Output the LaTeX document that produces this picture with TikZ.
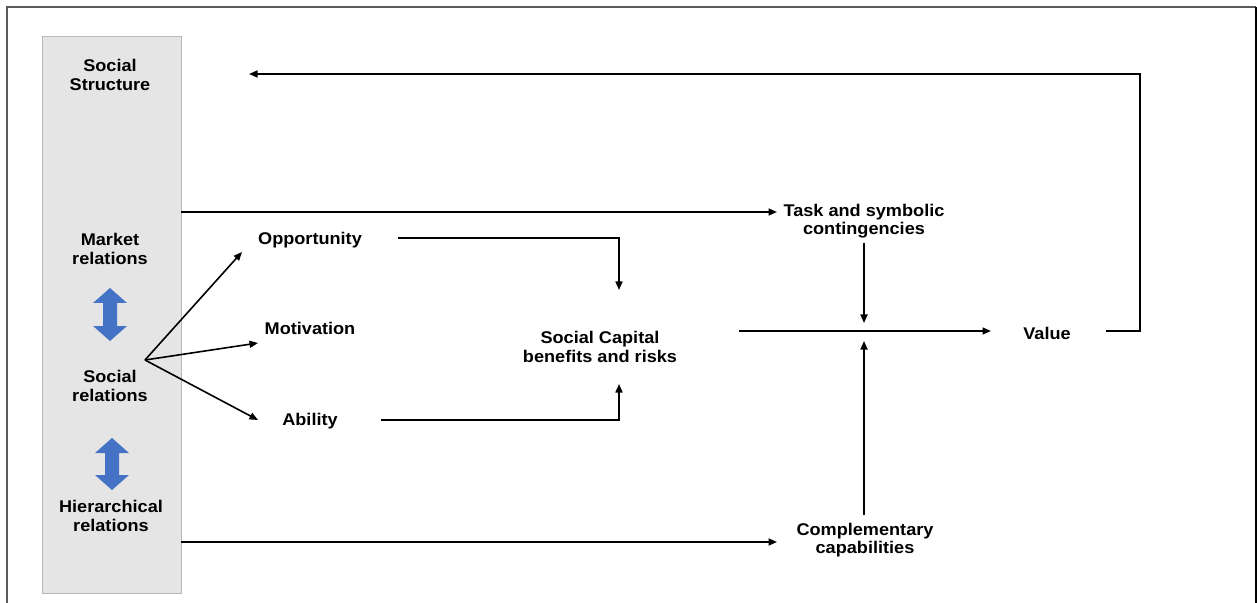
\documentclass[tikz,border=0pt]{standalone}
\usepackage{fontspec}
\setmainfont{Liberation Sans}[FakeStretch=1.07]
\usetikzlibrary{arrows.meta}
\definecolor{panelfill}{HTML}{E6E5E6}
\definecolor{panelline}{HTML}{B8B8B8}
\definecolor{framegray}{HTML}{5A5A5A}
\definecolor{dblblue}{HTML}{4472C4}
\tikzset{
  lbl/.style={font=\bfseries\fontsize{17}{18.5}\selectfont, align=center, inner sep=0pt},
  arr/.style={line width=1.6bp, -{Triangle[length=8.5bp,width=7bp]}},
  panelbox/.style={draw=panelline, fill=panelfill, line width=1bp, minimum width=138bp, minimum height=556bp, inner sep=0pt},
  dblarrow/.style={fill=dblblue, draw=none}
}
\begin{document}
\begin{tikzpicture}[x=1bp,y=-1bp]
\useasboundingbox (0,0) rectangle (1257,603);
% outer frame
\draw[framegray, line width=2bp] (7,603) -- (7,7) -- (1256,7);
\draw[black, line width=1.6bp] (1256,7) -- (1256,603);

% left panel with the social structure levels
\node[panelbox] (panel) at (112,315) {};
\node[lbl] (ss) at (110,75) {Social\\Structure};
\node[lbl] (mr) at (110,249) {Market\\relations};
\node[lbl] (sr) at (110,386) {Social\\relations};
\node[lbl] (hr) at (111,516) {Hierarchical\\relations};

% blue double-headed arrows between levels
\foreach \cx/\ty/\by in {110/288/341, 112/438/490}{
  \fill[dblblue] (\cx,\ty) -- (\cx+17,\ty+15) -- (\cx+7,\ty+15) -- (\cx+7,\by-15)
    -- (\cx+17,\by-15) -- (\cx,\by) -- (\cx-17,\by-15) -- (\cx-7,\by-15)
    -- (\cx-7,\ty+15) -- (\cx-17,\ty+15) -- cycle;
}

% text nodes
\node[lbl] (opp) at (310,240) {Opportunity};
\node[lbl] (mot) at (310,328) {Motivation};
\node[lbl] (abi) at (310,421) {Ability};
\node[lbl] (scb) at (600,347) {Social Capital\\benefits and risks};
\node[lbl] (task) at (864,221) {Task and symbolic\\contingencies};
\node[lbl] (comp) at (865,540) {Complementary\\capabilities};
\node[lbl] (val) at (1047,333) {Value};

% connector end points
\coordinate (fan) at (145,360);
\coordinate (oppIn) at (242,252);
\coordinate (motIn) at (258,343);
\coordinate (abiIn) at (258,420);
\coordinate (oppOut) at (398,238);
\coordinate (oppTurn) at (619,238);
\coordinate (scbTop) at (619,290);
\coordinate (abiOut) at (381,420);
\coordinate (abiTurn) at (619,420);
\coordinate (scbBot) at (619,384);
\coordinate (mrOut) at (181,212);
\coordinate (taskIn) at (777,212);
\coordinate (hrOut) at (181,542);
\coordinate (compIn) at (777,542);
\coordinate (scbOut) at (739,331);
\coordinate (valIn) at (991,331);
\coordinate (taskOut) at (864,243);
\coordinate (joinTop) at (864,323);
\coordinate (compOut) at (864,515);
\coordinate (joinBot) at (864,341);
\coordinate (valOut) at (1106,331);
\coordinate (fbRight) at (1140,331);
\coordinate (fbTop) at (1140,74);
\coordinate (ssIn) at (249,74);

% fan from social relations
\draw[arr] (fan) -- (oppIn);
\draw[arr] (fan) -- (motIn);
\draw[arr] (fan) -- (abiIn);

% into social capital
\draw[arr] (oppOut) -- (oppTurn) -- (scbTop);
\draw[arr] (abiOut) -- (abiTurn) -- (scbBot);

% contingencies and capabilities
\draw[arr] (mrOut) -- (taskIn);
\draw[arr] (hrOut) -- (compIn);

% towards value
\draw[arr] (scbOut) -- (valIn);
\draw[arr] (taskOut) -- (joinTop);
\draw[arr] (compOut) -- (joinBot);

% feedback to social structure
\draw[arr] (valOut) -- (fbRight) -- (fbTop) -- (ssIn);
\end{tikzpicture}
\end{document}
